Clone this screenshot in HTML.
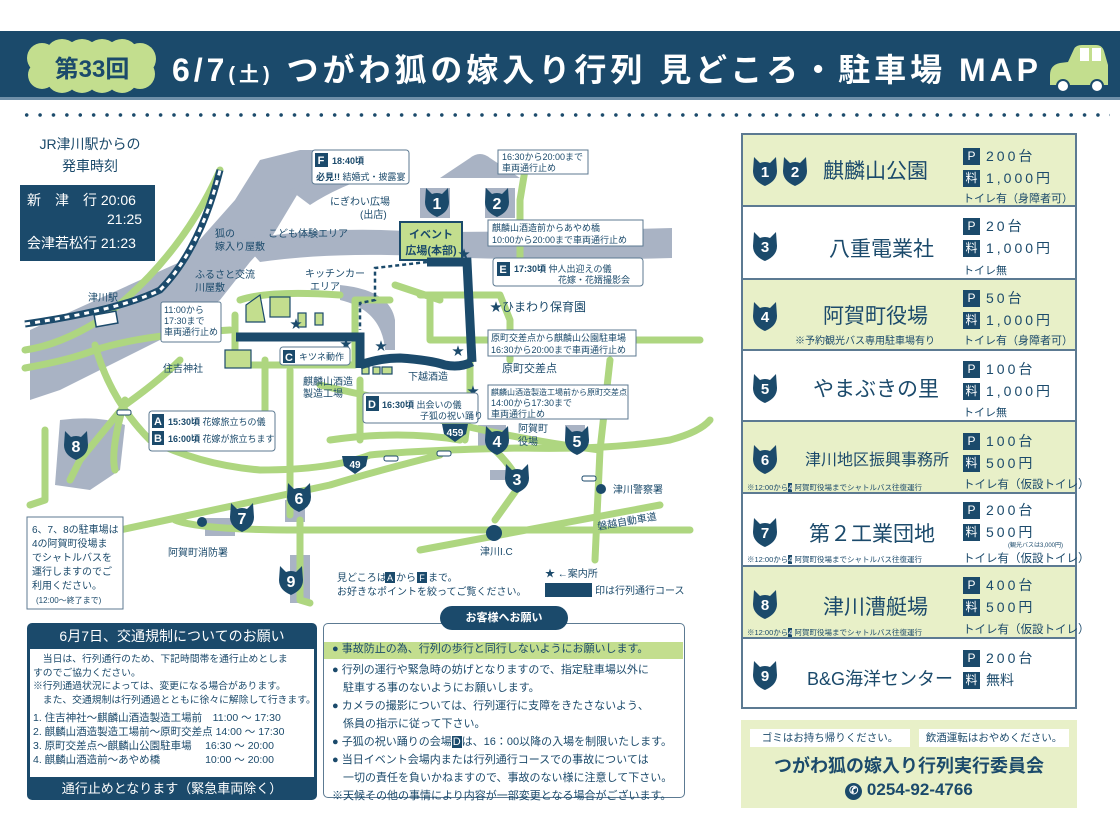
<!DOCTYPE html>
<html><head><meta charset="utf-8">
<style>
*{margin:0;padding:0;box-sizing:border-box}
body{width:1120px;height:840px;background:#fff;position:relative;overflow:hidden;font-family:"Liberation Sans","Noto Sans CJK JP",sans-serif;color:#1b4a6b}
.abs{position:absolute}
.hdr{left:0;top:31px;width:1120px;height:69px;background:#1b4a6b;border-bottom:3px solid #6f8fa8}
.dots{left:20px;top:112px;width:1090px;height:6px;background-image:radial-gradient(circle,#1b4a6b 1.6px,transparent 2px);background-size:13.4px 6px}
.tbl{left:741px;top:133px;width:336px;height:576px;border:2px solid #5c7a92}
.row{position:absolute;left:0;width:332px;border-bottom:2px solid #5c7a92}
.g{background:#e8f0c8}
.nm{position:absolute;font-size:21px;color:#1b4a6b;white-space:nowrap}
.pv{position:absolute;left:220px;font-size:14px;letter-spacing:3px;white-space:nowrap;line-height:22px}
.pv b{display:inline-block;background:#1b4a6b;color:#fff;width:17px;height:17px;font-size:12px;text-align:center;line-height:17px;letter-spacing:0;margin-right:6px;font-weight:normal;vertical-align:1px}
.tl{position:absolute;left:220px;font-size:11px;white-space:nowrap}
.note{position:absolute;left:4px;font-size:7.5px;white-space:nowrap}
.box{border:1.5px solid #1b4a6b;border-radius:5px}
</style></head><body>
<div class="abs hdr"></div>
<svg class="abs" style="left:0;top:31px" width="1120" height="70">
 <g fill="#c3de8e"><circle cx="42" cy="27" r="15"/><circle cx="62" cy="25" r="17"/><circle cx="82" cy="25" r="17"/><circle cx="102" cy="25" r="17"/><circle cx="122" cy="25" r="17"/><circle cx="140" cy="28" r="16"/><circle cx="42" cy="44" r="14"/><circle cx="62" cy="46" r="16"/><circle cx="82" cy="46" r="16"/><circle cx="102" cy="46" r="16"/><circle cx="122" cy="46" r="16"/><circle cx="140" cy="43" r="15"/></g>
 <text x="92" y="46" text-anchor="middle" font-size="24" font-weight="bold" fill="#1b4a6b" font-family="Liberation Sans,Noto Sans CJK JP,sans-serif">第33回</text>
 <text x="172" y="50" font-size="32" font-weight="bold" fill="#fff" textLength="866" lengthAdjust="spacing" font-family="Liberation Sans,Noto Sans CJK JP,sans-serif">6/7<tspan font-size="20">(土)</tspan> つがわ狐の嫁入り行列 見どころ・駐車場 MAP</text>
 <path d="M1050 44 q0-10 10-12 l8-1 l6-13 q2-4 8-4 h14 q6 0 8 6 l4 14 v20 h-58z" fill="#c3de8e"/>
 <rect x="1080" y="17" width="9" height="13" fill="#fff"/><rect x="1092" y="17" width="9" height="13" fill="#fff"/>
 <circle cx="1063" cy="55" r="6" fill="#fff" stroke="#1b4a6b" stroke-width="2"/><circle cx="1097" cy="55" r="6" fill="#fff" stroke="#1b4a6b" stroke-width="2"/>
</svg>
<div class="abs dots"></div>

<svg class="abs" style="left:0;top:0" width="735" height="620" font-family="Liberation Sans,Noto Sans CJK JP,sans-serif">
<defs>
 <path id="cat" d="M-11,-14 L-5,-8 Q0,-10 5,-8 L11,-14 L12,0 Q12,10 0,15 Q-12,10 -12,0 Z"/>
</defs>
<g fill="#a9b3c4">
 <path d="M30 330 L180 262 L235 200 L260 160 L300 150 L345 150 L330 175 L300 190 L270 240 L250 262 L220 300 L180 330 L60 390 L30 400Z"/>
 <path d="M240 240 Q330 225 420 232 Q540 232 672 228 L672 258 Q540 262 420 256 Q330 252 260 262Z"/>
 <path d="M290 190 Q360 160 380 150 L390 170 Q340 185 310 205Z"/>
 <path d="M340 285 Q390 290 395 320 L395 350 L385 350 Q382 310 340 300Z"/>
 <path d="M440 178 L470 158 Q480 150 490 158 L520 178Z"/>
 <path d="M60 420 Q100 415 125 425 L120 470 L90 490 L55 485Z"/>
 <rect x="290" y="555" width="20" height="48"/><rect x="205" y="518" width="30" height="18"/><rect x="285" y="500" width="20" height="22"/>
 <rect x="420" y="188" width="30" height="30"/><rect x="485" y="188" width="30" height="30"/>
 <rect x="478" y="425" width="28" height="22"/><rect x="565" y="425" width="20" height="20"/><rect x="490" y="470" width="20" height="10"/>
</g>
<g fill="none" stroke="#aed680" stroke-width="7" stroke-linecap="round" stroke-linejoin="round">
 <path d="M220 170 Q180 260 100 320 Q60 345 25 350"/>
 <path d="M25 368 Q70 360 95 350 Q140 335 230 330"/>
 <path d="M95 345 Q110 400 150 440 Q200 465 260 470 Q330 470 370 455 Q420 450 520 448 Q610 450 670 440 Q700 432 710 420"/>
 <path d="M180 360 Q160 380 125 405 L80 460 L70 480"/>
 <path d="M45 430 L45 500 L30 505"/>
 <path d="M125 400 Q110 450 115 470"/>
 <path d="M120 530 L330 485 Q380 470 440 455"/>
 <path d="M175 520 Q200 530 300 530 L690 530"/>
 <path d="M300 520 L300 600 L310 603"/>
 <path d="M290 370 L290 515"/>
 <path d="M235 315 L235 365 L355 365 L355 300 L390 300"/>
 <path d="M240 300 Q270 290 340 295"/>
 <path d="M265 360 L265 420"/>
 <path d="M430 300 L430 340 L700 340"/>
 <path d="M420 295 L500 295 L510 320 L510 360"/>
 <path d="M520 262 L520 200 M525 170 L520 200"/>
 <path d="M470 360 L470 400 L465 440"/>
 <path d="M495 450 Q515 470 520 485 L495 520"/>
 <path d="M610 360 L600 450 L595 560"/>
 <path d="M420 550 L660 505"/>
 <path d="M360 405 L440 420 Q520 440 600 450"/>
 <path d="M320 385 Q380 400 430 405"/>
 <path d="M360 380 L360 440"/>
 <path d="M395 285 L440 300"/>
 <path d="M330 440 Q400 430 460 440"/>
</g>
<path d="M25 324 Q120 310 160 290 Q200 250 220 170" fill="none" stroke="#1b4a6b" stroke-width="7"/>
<path d="M25 324 Q120 310 160 290 Q200 250 220 170" fill="none" stroke="#fff" stroke-width="3" stroke-dasharray="5 5"/>
<rect x="95" y="313" width="22" height="12" fill="#fff" stroke="#1b4a6b" stroke-width="1.5" transform="rotate(-10 106 319)"/>
<g fill="#c3de8e" stroke="#1b4a6b" stroke-width="1.2">
 <path d="M246 305 L260 295 L265 322 L246 322Z"/><rect x="270" y="297" width="20" height="20"/>
 <rect x="298" y="313" width="8" height="14"/><rect x="315" y="313" width="8" height="12"/>
 <rect x="225" y="350" width="26" height="18"/>
 <rect x="362" y="367" width="7" height="7"/><rect x="373" y="367" width="7" height="7"/><rect x="382" y="367" width="10" height="7"/>
 <rect x="400" y="222" width="62" height="38" stroke-width="2"/>
</g>
<text x="431" y="238" text-anchor="middle" font-size="11" font-weight="bold" fill="#1b4a6b">イベント</text>
<text x="431" y="254" text-anchor="middle" font-size="11" font-weight="bold" fill="#1b4a6b">広場(本部)</text>
<g fill="none" stroke="#1b4a6b" stroke-width="9" stroke-linejoin="miter">
 <path d="M236 337 L360 337 L360 368"/>
 <path d="M360 365 Q380 358 400 358 Q430 360 445 365 Q460 368 472 362"/>
 <path d="M427 262 L467 262 L472 362" />
</g>
<path d="M427 262 L375 268 L375 300 L360 303 L360 330" fill="none" stroke="#1b4a6b" stroke-width="2.5" stroke-dasharray="4 3"/>
<g font-size="12" fill="#1b4a6b">
 <text x="467" y="395">★</text><text x="375" y="350">★</text><text x="340" y="348">★</text><text x="290" y="328">★</text><text x="452" y="355">★</text><text x="458" y="258">★</text>
 <text x="490" y="311" font-size="12">★ひまわり保育園</text>
</g>
<g fill="#1b4a6b">
 <use href="#cat" x="437" y="202"/><use href="#cat" x="497" y="202"/><use href="#cat" x="497" y="440"/><use href="#cat" x="577" y="440"/>
 <use href="#cat" x="517" y="478"/><use href="#cat" x="299" y="497"/><use href="#cat" x="242" y="517"/><use href="#cat" x="76" y="445"/><use href="#cat" x="291" y="580"/>
</g>
<g fill="#fff" font-size="16" font-weight="bold" text-anchor="middle">
 <text x="437" y="209">1</text><text x="497" y="209">2</text><text x="497" y="447">4</text><text x="577" y="447">5</text><text x="517" y="485">3</text><text x="299" y="504">6</text><text x="242" y="524">7</text><text x="76" y="452">8</text><text x="291" y="587">9</text>
</g>
<path d="M342 456 h26 l-2 10 l-11 8 l-11 -8z" fill="#1b4a6b"/><text x="355" y="468" font-size="10" font-weight="bold" fill="#fff" text-anchor="middle">49</text>
<path d="M442 424 h26 l-2 10 l-11 8 l-11 -8z" fill="#1b4a6b"/><text x="455" y="436" font-size="10" font-weight="bold" fill="#fff" text-anchor="middle">459</text>
<circle cx="202" cy="522" r="5" fill="#1b4a6b"/><circle cx="601" cy="489" r="5" fill="#1b4a6b"/><circle cx="494" cy="533" r="8" fill="#1b4a6b"/>
<g fill="#fff" stroke="#1b4a6b" stroke-width="1"><rect x="117" y="410" width="14" height="5" rx="2"/><rect x="437" y="451" width="14" height="5" rx="2"/><rect x="384" y="456" width="14" height="5" rx="2"/><rect x="582" y="476" width="14" height="5" rx="2"/></g>
<g font-size="10" fill="#1b4a6b">
 <text x="88" y="301">津川駅</text>
 <text x="215" y="237">狐の</text><text x="215" y="250">嫁入り屋敷</text>
 <text x="268" y="237">こども体験エリア</text>
 <text x="195" y="278">ふるさと交流</text><text x="195" y="291">川屋敷</text>
 <text x="305" y="277">キッチンカー</text><text x="310" y="290">エリア</text>
 <text x="330" y="205">にぎわい広場</text><text x="360" y="218">(出店)</text>
 <text x="163" y="372">住吉神社</text>
 <text x="303" y="385">麒麟山酒造</text><text x="303" y="397">製造工場</text>
 <text x="408" y="380">下越酒造</text>
 <text x="502" y="372" font-size="11">原町交差点</text>
 <text x="518" y="432">阿賀町</text><text x="518" y="445">役場</text>
 <text x="613" y="493">津川警察署</text>
 <text x="598" y="530" transform="rotate(-10 598 530)">磐越自動車道</text>
 <text x="480" y="555">津川I.C</text>
 <text x="168" y="556">阿賀町消防署</text>
 <text x="337" y="581">見どころは</text><text x="396" y="581">から</text><text x="428" y="581">まで。</text>
 <text x="337" y="595">お好きなポイントを絞ってご覧ください。</text>
 <text x="545" y="577">★ ←案内所</text>
 <text x="595" y="594">印は行列通行コース</text>
</g>
<rect x="385" y="572" width="10" height="11" fill="#1b4a6b"/><text x="390" y="581" font-size="9" fill="#fff" text-anchor="middle">A</text>
<rect x="417" y="572" width="10" height="11" fill="#1b4a6b"/><text x="422" y="581" font-size="9" fill="#fff" text-anchor="middle">F</text>
<rect x="545" y="583" width="47" height="14" fill="#1b4a6b"/>
<g fill="#fff" stroke="#5c7a92" stroke-width="1">
 <rect x="312" y="150" width="97" height="34" rx="3"/>
 <rect x="498" y="150" width="90" height="24"/>
 <rect x="488" y="220" width="155" height="26"/>
 <rect x="493" y="258" width="150" height="28" rx="3"/>
 <rect x="488" y="330" width="148" height="26"/>
 <rect x="488" y="385" width="140" height="34"/>
 <rect x="363" y="393" width="115" height="30" rx="3"/>
 <rect x="280" y="347" width="70" height="18" rx="3"/>
 <rect x="161" y="302" width="60" height="40" rx="2"/>
 <rect x="149" y="411" width="126" height="40" rx="3"/>
 <rect x="27" y="517" width="96" height="92"/>
</g>
<g fill="#1b4a6b">
 <rect x="315" y="153" width="13" height="14"/><rect x="497" y="262" width="13" height="14"/><rect x="366" y="396" width="13" height="15"/><rect x="283" y="350" width="12" height="13"/><rect x="152" y="414" width="12" height="14"/><rect x="152" y="431" width="12" height="14"/>
</g>
<g fill="#fff" font-size="11" font-weight="bold" text-anchor="middle"><text x="321" y="164">F</text><text x="503" y="273">E</text><text x="372" y="408">D</text><text x="289" y="361">C</text><text x="158" y="425">A</text><text x="158" y="442">B</text></g>
<g font-size="9" fill="#1b4a6b">
 <text x="332" y="164" font-weight="bold">18:40頃</text><text x="316" y="180"><tspan font-weight="bold">必見!!</tspan> 結婚式・披露宴</text>
 <text x="502" y="160">16:30から20:00まで</text><text x="502" y="171">車両通行止め</text>
 <text x="492" y="231">麒麟山酒造前からあやめ橋</text><text x="492" y="243">10:00から20:00まで車両通行止め</text>
 <text x="514" y="272"><tspan font-weight="bold">17:30頃</tspan> 仲人出迎えの儀</text><text x="558" y="283">花嫁・花婿撮影会</text>
 <text x="491" y="341">原町交差点から麒麟山公園駐車場</text><text x="491" y="353">16:30から20:00まで車両通行止め</text>
 <text x="491" y="395" font-size="8">麒麟山酒造製造工場前から原町交差点</text><text x="491" y="406">14:00から17:30まで</text><text x="491" y="417">車両通行止め</text>
 <text x="382" y="408"><tspan font-weight="bold">16:30頃</tspan> 出会いの儀</text><text x="420" y="419">子狐の祝い踊り</text>
 <text x="299" y="360">キツネ動作</text>
 <text x="164" y="313">11:00から</text><text x="164" y="324">17:30まで</text><text x="164" y="335">車両通行止め</text>
 <text x="168" y="425"><tspan font-weight="bold">15:30頃</tspan> 花嫁旅立ちの儀</text><text x="168" y="442"><tspan font-weight="bold">16:00頃</tspan> 花嫁が旅立ちます</text>
 <text x="32" y="533" font-size="10">6、7、8の駐車場は</text><text x="32" y="547" font-size="10">4の阿賀町役場ま</text><text x="32" y="561" font-size="10">でシャトルバスを</text><text x="32" y="575" font-size="10">運行しますのでご</text><text x="32" y="589" font-size="10">利用ください。</text><text x="36" y="603" font-size="8">(12:00～終了まで)</text>
</g>
<text x="90" y="149" font-size="14" fill="#1b4a6b" text-anchor="middle">JR津川駅からの</text>
<text x="90" y="171" font-size="14" fill="#1b4a6b" text-anchor="middle">発車時刻</text>
<rect x="20" y="185" width="135" height="76" fill="#1b4a6b"/>
<g fill="#fff" font-size="14"><text x="27" y="205">新　津　行 20:06</text><text x="107" y="224">21:25</text><text x="27" y="248">会津若松行 21:23</text></g>
</svg>

<div class="abs" style="left:27px;top:623px;width:290px;height:177px;background:#1b4a6b;border-radius:5px">
 <div style="height:26px;color:#fff;text-align:center;font-size:14px;line-height:26px">6月7日、交通規制についてのお願い</div>
 <div style="position:absolute;left:3px;top:26px;width:284px;height:128px;background:#fff;font-size:9.8px;line-height:13.5px;color:#1b4a6b;padding:4px 3px;white-space:nowrap;overflow:hidden">
  <div>　当日は、行列通行のため、下記時間帯を通行止めとしま</div>
  <div>すのでご協力ください。</div>
  <div>※行列通過状況によっては、変更になる場合があります。</div>
  <div>　また、交通規制は行列通過とともに徐々に解除して行きます。</div>
  <div style="margin-top:4px;line-height:14px;font-size:10.5px">1. 住吉神社～麒麟山酒造製造工場前　11:00 ～ 17:30<br>2. 麒麟山酒造製造工場前～原町交差点 14:00 ～ 17:30<br>3. 原町交差点～麒麟山公園駐車場　 16:30 ～ 20:00<br>4. 麒麟山酒造前～あやめ橋　　　　 10:00 ～ 20:00</div>
 </div>
 <div style="position:absolute;top:154px;width:290px;color:#fff;text-align:center;font-size:13px;line-height:23px">通行止めとなります（緊急車両除く）</div>
</div>

<div class="abs box" style="left:323px;top:623px;width:362px;height:175px;border-color:#5c7a92">
 <div style="position:absolute;left:0;top:18px;width:359px;height:17px;background:#c3de8e"></div>
 <div style="position:absolute;left:8px;top:16px;font-size:11px;line-height:18px;color:#1b4a6b;white-space:nowrap">
  ● 事故防止の為、行列の歩行と同行しないようにお願いします。<br>
  <div style="height:3px"></div>
  ● 行列の運行や緊急時の妨げとなりますので、指定駐車場以外に<br>　駐車する事のないようにお願いします。<br>
  ● カメラの撮影については、行列運行に支障をきたさないよう、<br>　係員の指示に従って下さい。<br>
  ● 子狐の祝い踊りの会場<span style="background:#1b4a6b;color:#fff;padding:0 1px">D</span>は、16：00以降の入場を制限いたします。<br>
  ● 当日イベント会場内または行列通行コースでの事故については<br>　一切の責任を負いかねますので、事故のない様に注意して下さい。<br>
  ※天候その他の事情により内容が一部変更となる場合がございます。
 </div>
</div>
<div class="abs" style="left:440px;top:606px;width:128px;height:24px;background:#1b4a6b;border-radius:12px;color:#fff;font-size:11px;text-align:center;line-height:24px;font-weight:bold">お客様へお願い</div>

<div class="abs tbl">
 <div class="row g" style="top:0;height:72px"><div class="nm" style="left:80px;top:20px">麒麟山公園</div><div class="pv" style="top:10px"><b>P</b>200台<br><b>料</b>1,000円</div><div class="tl" style="top:55px">トイレ有（身障者可）</div></div>
 <div class="row" style="top:72px;height:73px"><div class="nm" style="left:86px;top:26px">八重電業社</div><div class="pv" style="top:8px"><b>P</b>20台<br><b>料</b>1,000円</div><div class="tl" style="top:55px">トイレ無</div></div>
 <div class="row g" style="top:145px;height:71px"><div class="nm" style="left:80px;top:20px">阿賀町役場</div><div class="note" style="left:52px;top:52px;font-size:10px">※予約観光バス専用駐車場有り</div><div class="pv" style="top:7px"><b>P</b>50台<br><b>料</b>1,000円</div><div class="tl" style="top:52px">トイレ有（身障者可）</div></div>
 <div class="row" style="top:216px;height:71px"><div class="nm" style="left:70px;top:22px">やまぶきの里</div><div class="pv" style="top:7px"><b>P</b>100台<br><b>料</b>1,000円</div><div class="tl" style="top:53px">トイレ無</div></div>
 <div class="row g" style="top:287px;height:72px"><div class="nm" style="left:62px;top:24px;font-size:16px">津川地区振興事務所</div><div class="note" style="top:60px">※12:00から<span style="background:#1b4a6b;color:#fff">4</span> 阿賀町役場までシャトルバス往復運行</div><div class="pv" style="top:8px"><b>P</b>100台<br><b>料</b>500円</div><div class="tl" style="top:54px;font-size:11.5px">トイレ有（仮設トイレ）</div></div>
 <div class="row" style="top:359px;height:73px"><div class="nm" style="left:66px;top:24px">第２工業団地</div><div class="note" style="top:60px">※12:00から<span style="background:#1b4a6b;color:#fff">4</span> 阿賀町役場までシャトルバス往復運行</div><div class="pv" style="top:5px"><b>P</b>200台<br><b>料</b>500円</div><div class="note" style="left:265px;top:46px;font-size:6px">(観光バスは3,000円)</div><div class="tl" style="top:56px;font-size:11.5px">トイレ有（仮設トイレ）</div></div>
 <div class="row g" style="top:432px;height:72px"><div class="nm" style="left:80px;top:24px">津川漕艇場</div><div class="note" style="top:60px">※12:00から<span style="background:#1b4a6b;color:#fff">4</span> 阿賀町役場までシャトルバス往復運行</div><div class="pv" style="top:7px"><b>P</b>400台<br><b>料</b>500円</div><div class="tl" style="top:54px;font-size:11.5px">トイレ有（仮設トイレ）</div></div>
 <div class="row" style="top:504px;height:70px;border-bottom:none"><div class="nm" style="left:64px;top:26px;font-size:18px">B&amp;G海洋センター</div><div class="pv" style="top:8px"><b>P</b>200台<br><b>料</b><span style="letter-spacing:0">無料</span></div></div>
 <svg style="position:absolute;left:0;top:0" width="80" height="576">
  <g fill="#1b4a6b"><use href="#cat" x="22" y="36"/><use href="#cat" x="52" y="36"/><use href="#cat" x="22" y="111"/><use href="#cat" x="22" y="181"/><use href="#cat" x="22" y="253"/><use href="#cat" x="22" y="324"/><use href="#cat" x="22" y="397"/><use href="#cat" x="22" y="469"/><use href="#cat" x="22" y="540"/></g>
  <g fill="#fff" font-size="15" font-weight="bold" text-anchor="middle" font-family="Liberation Sans,sans-serif"><text x="22" y="42">1</text><text x="52" y="42">2</text><text x="22" y="117">3</text><text x="22" y="187">4</text><text x="22" y="259">5</text><text x="22" y="330">6</text><text x="22" y="403">7</text><text x="22" y="475">8</text><text x="22" y="546">9</text></g>
 </svg>
</div>

<div class="abs" style="left:741px;top:720px;width:336px;height:88px;background:#e8f0c8">
 <div style="position:absolute;left:9px;top:9px;width:160px;height:18px;background:#fff;font-size:10.5px;text-align:center;line-height:18px">ゴミはお持ち帰りください。</div>
 <div style="position:absolute;left:178px;top:9px;width:150px;height:18px;background:#fff;font-size:10.5px;text-align:center;line-height:18px">飲酒運転はおやめください。</div>
 <div style="position:absolute;left:0;top:32px;width:336px;text-align:center;font-size:18px;font-weight:bold">つがわ狐の嫁入り行列実行委員会</div>
 <div style="position:absolute;left:0;top:60px;width:336px;text-align:center;font-size:17px;font-weight:bold"><span style="display:inline-block;width:17px;height:17px;border-radius:50%;background:#1b4a6b;color:#fff;font-size:11px;line-height:17px;vertical-align:1px">✆</span> 0254-92-4766</div>
</div>
</body></html>
